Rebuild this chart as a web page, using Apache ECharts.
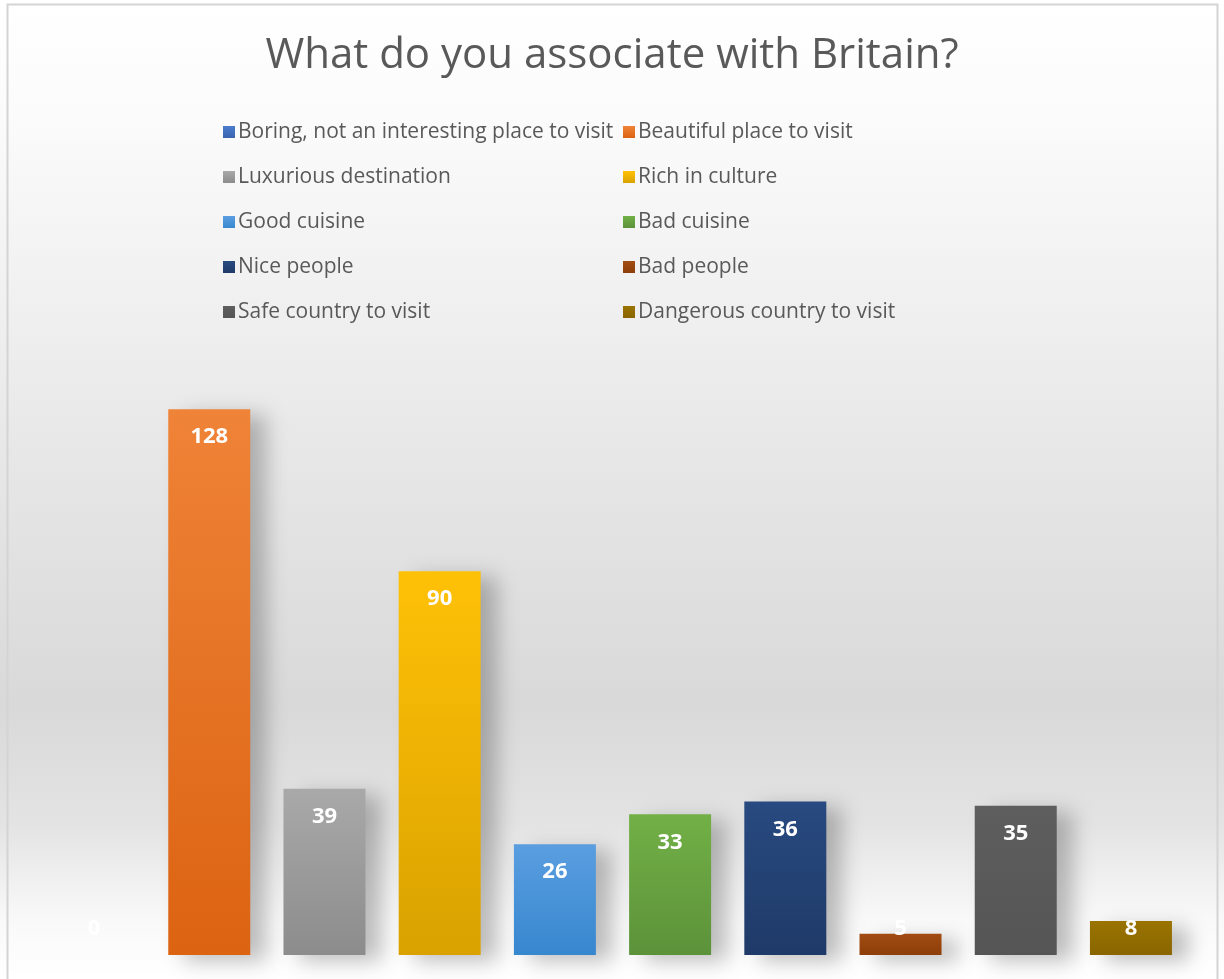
<!DOCTYPE html>
<html>
<head>
<meta charset="utf-8">
<script src="https://cdn.jsdelivr.net/npm/echarts@6/dist/echarts.min.js"></script>
<style>
html,body{margin:0;padding:0;background:#fff;}
#c{width:1224px;height:979px;}
</style>
</head>
<body>
<div id="c"></div>
<script>
var titleText = 'What do you associate with Britain?';
var seriesNames = [
  'Boring, not an interesting place to visit',
  'Beautiful place to visit',
  'Luxurious destination',
  'Rich in culture',
  'Good cuisine',
  'Bad cuisine',
  'Nice people',
  'Bad people',
  'Safe country to visit',
  'Dangerous country to visit'
];
var seriesValues = [0, 128, 39, 90, 26, 33, 36, 5, 35, 8];
var topColors    = ['#4a7ccf', '#ef8337', '#a9a9a9', '#ffc107', '#5a9ee0', '#72b046', '#284a80', '#a24c12', '#5e5e5e', '#9a7400'];
var bottomColors = ['#3a63ae', '#dc6312', '#8c8c8c', '#d9a200', '#3787cf', '#5c923a', '#1f3a68', '#8e3e0a', '#555555', '#8a6500'];

var chart = echarts.init(document.getElementById('c'));

var series = seriesNames.map(function (name, i) {
  var v = seriesValues[i];
  var item = { value: v };
  if (v < 13) {
    item.label = { position: 'insideBottom', distance: 15 };
  }
  return {
    name: name,
    type: 'bar',
    barWidth: 82,
    barGap: '40.5%',
    data: [item],
    itemStyle: {
      color: new echarts.graphic.LinearGradient(0, 0, 0, 1, [
        { offset: 0, color: topColors[i] },
        { offset: 1, color: bottomColors[i] }
      ]),
      shadowColor: 'rgba(0,0,0,0.25)',
      shadowBlur: 20,
      shadowOffsetX: 16,
      shadowOffsetY: 6
    },
    label: {
      show: true,
      position: 'insideTop',
      distance: 17,
      color: '#ffffff',
      fontFamily: 'Open Sans',
      fontWeight: 'bold',
      fontSize: 22
    }
  };
});

var leftCol = [0, 2, 4, 6, 8].map(function (i) { return seriesNames[i]; });
var rightCol = [1, 3, 5, 7, 9].map(function (i) { return seriesNames[i]; });

function legendAt(left, data) {
  return {
    orient: 'vertical',
    left: left,
    top: 115,
    data: data,
    itemWidth: 12,
    itemHeight: 12,
    itemGap: 21,
    icon: 'rect',
    selectedMode: false,
    textStyle: {
      color: '#595959',
      fontFamily: 'Open Sans',
      fontSize: 21,
      lineHeight: 24,
      padding: [0, 0, 0, -2]
    }
  };
}

chart.setOption({
  animation: false,
  color: topColors,
  backgroundColor: new echarts.graphic.LinearGradient(0, 0, 0, 1, [
    { offset: 0, color: '#ffffff' },
    { offset: 0.12, color: '#fbfbfb' },
    { offset: 0.45, color: '#e8e8e8' },
    { offset: 0.72, color: '#d9d9d9' },
    { offset: 0.84, color: '#e3e3e3' },
    { offset: 0.94, color: '#f9f9f9' },
    { offset: 1, color: '#ffffff' }
  ]),
  title: {
    text: titleText,
    left: 'center',
    top: 30,
    textStyle: {
      color: '#595959',
      fontFamily: 'Open Sans',
      fontWeight: 'normal',
      fontSize: 42
    }
  },
  legend: [legendAt(218, leftCol), legendAt(618, rightCol)],
  grid: { left: 40, right: 39, top: 358, bottom: 24 },
  xAxis: {
    type: 'category',
    data: [''],
    axisLine: { show: false },
    axisTick: { show: false },
    axisLabel: { show: false }
  },
  yAxis: {
    type: 'value',
    min: 0,
    max: 140,
    show: false,
    splitLine: { show: false }
  },
  graphic: [{
    type: 'rect',
    shape: { x: 7.5, y: 4.5, width: 1210, height: 990 },
    style: { fill: 'none', stroke: '#d4d4d4', lineWidth: 2 },
    silent: true
  }],
  series: series
});
</script>
</body>
</html>
